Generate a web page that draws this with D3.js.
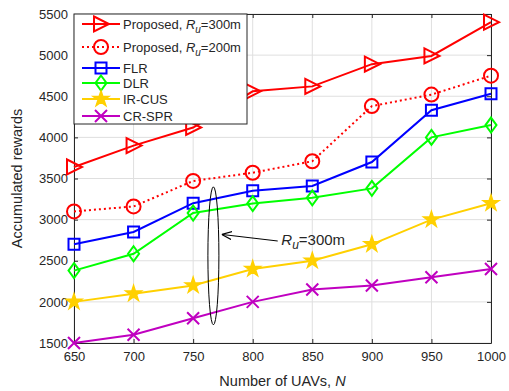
<!DOCTYPE html>
<html lang="en">
<head>
<meta charset="UTF-8">
<title>Accumulated rewards</title>
<script src="https://cdn.jsdelivr.net/npm/d3@7"></script>
<style>
  body { margin: 0; background: #fff; }
  text { font-family: "Liberation Sans", Arial, sans-serif; fill: #262626; }
</style>
</head>
<body>
<script>
const uavs = [650, 700, 750, 800, 850, 900, 950, 1000]
const proposed300 = [3640, 3900, 4120, 4560, 4620, 4890, 4990, 5400]
const proposed200 = [3100, 3160, 3470, 3570, 3710, 4380, 4520, 4750]
const flr = [2700, 2850, 3200, 3350, 3410, 3700, 4330, 4530]
const dlr = [2380, 2585, 3080, 3195, 3265, 3380, 4000, 4150]
const irCus = [2000, 2100, 2200, 2400, 2500, 2700, 3000, 3200]
const crSpr = [1500, 1600, 1800, 2000, 2150, 2200, 2300, 2400]
const yTicks = [1500, 2000, 2500, 3000, 3500, 4000, 4500, 5000, 5500]

const series = [
  { name: 'Proposed', ru: '300m', values: proposed300, color: '#ff0000', marker: 'tri', dash: null },
  { name: 'Proposed', ru: '200m', values: proposed200, color: '#ff0000', marker: 'circle', dash: '2,3' },
  { name: 'FLR', values: flr, color: '#0000ff', marker: 'square', dash: null },
  { name: 'DLR', values: dlr, color: '#00ff00', marker: 'diamond', dash: null },
  { name: 'IR-CUS', values: irCus, color: '#ffd000', marker: 'star', dash: null },
  { name: 'CR-SPR', values: crSpr, color: '#c000c0', marker: 'cross', dash: null }
]

const [width, height] = [509, 391]
const margin = { left: 74, right: 18, top: 14, bottom: 48 }
const svg = d3.select('body').append('svg')
  .attr('width', width).attr('height', height)

const x = d3.scaleLinear().domain([650, 1000]).range([margin.left, width - margin.right])
const y = d3.scaleLinear().domain([1500, 5500]).range([height - margin.bottom, margin.top])
const [x0, x1, y0, y1] = [x.range()[0], x.range()[1], y.range()[0], y.range()[1]]

// grid
svg.append('g').selectAll('line').data(uavs).join('line')
  .attr('x1', d => x(d)).attr('x2', d => x(d)).attr('y1', y0).attr('y2', y1)
  .attr('stroke', '#dfdfdf').attr('stroke-width', 1)
svg.append('g').selectAll('line').data(yTicks).join('line')
  .attr('x1', x0).attr('x2', x1).attr('y1', d => y(d)).attr('y2', d => y(d))
  .attr('stroke', '#dfdfdf').attr('stroke-width', 1)

// axes (ticks inside like matlab)
const styleAxis = g => {
  g.select('.domain').attr('stroke', '#262626')
  g.selectAll('.tick line').attr('stroke', '#262626')
  g.selectAll('.tick text').attr('fill', '#262626').style('font-size', '13px')
    .style('font-family', '"Liberation Sans", Arial, sans-serif')
}
svg.append('g').attr('transform', `translate(0,${y0})`)
  .call(d3.axisBottom(x).tickValues(uavs).tickSizeInner(-4).tickSizeOuter(0).tickPadding(9).tickFormat(d3.format('d')))
  .call(styleAxis)
svg.append('g').attr('transform', `translate(${x0},0)`)
  .call(d3.axisLeft(y).tickValues(yTicks).tickSizeInner(-4).tickSizeOuter(0).tickPadding(6).tickFormat(d3.format('d')))
  .call(styleAxis)
svg.append('g').attr('transform', `translate(0,${y1})`)
  .call(d3.axisTop(x).tickValues(uavs).tickSizeInner(-4).tickSizeOuter(0).tickFormat(''))
  .call(styleAxis)
svg.append('g').attr('transform', `translate(${x1},0)`)
  .call(d3.axisRight(y).tickValues(yTicks).tickSizeInner(-4).tickSizeOuter(0).tickFormat(''))
  .call(styleAxis)

// markers
const markerPath = (type) => {
  switch (type) {
    case 'tri': return 'M-7,-7.5L8,0L-7,7.5Z'
    case 'square': return 'M-5.5,-5.5H5.5V5.5H-5.5Z'
    case 'diamond': return 'M0,-7.5L5.5,0L0,7.5L-5.5,0Z'
    case 'cross': return 'M-6,-6L6,6M-6,6L6,-6'
    case 'star': return d3.symbol(d3.symbolStar, 75)()
    default: return null
  }
}
const drawMarker = (g, type, color) => {
  if (type === 'circle') {
    g.append('circle').attr('r', 7).attr('fill', 'none').attr('stroke', color).attr('stroke-width', 2)
  } else {
    g.append('path').attr('d', markerPath(type))
      .attr('fill', type === 'star' ? color : 'none')
      .attr('stroke', color).attr('stroke-width', type === 'star' ? 1.5 : 2)
      .attr('stroke-linejoin', 'miter')
  }
}

const line = d3.line().x((d, i) => x(uavs[i])).y(d => y(d))
series.forEach(s => {
  svg.append('path').datum(s.values)
    .attr('d', line).attr('fill', 'none')
    .attr('stroke', s.color).attr('stroke-width', 2)
    .attr('stroke-dasharray', s.dash)
  s.values.forEach((v, i) => {
    const g = svg.append('g').attr('transform', `translate(${x(uavs[i])},${y(v)})`)
    drawMarker(g, s.marker, s.color)
  })
})

// annotation
svg.append('ellipse').attr('cx', x(767)).attr('cy', y(2560)).attr('rx', 5.5).attr('ry', 69)
  .attr('fill', 'none').attr('stroke', '#000').attr('stroke-width', 1)
svg.append('defs').append('marker').attr('id', 'arr').attr('viewBox', '0 0 10 10')
  .attr('refX', 10).attr('refY', 5).attr('markerWidth', 10).attr('markerHeight', 10)
  .attr('markerUnits', 'userSpaceOnUse').attr('orient', 'auto')
  .append('path').attr('d', 'M0,1L10,5L0,9').attr('fill', 'none').attr('stroke', '#000').attr('stroke-width', 1.2)
svg.append('line').attr('x1', x(821)).attr('y1', y(2740)).attr('x2', x(774)).attr('y2', y(2820))
  .attr('stroke', '#000').attr('stroke-width', 1).attr('marker-end', 'url(#arr)')
const ann = svg.append('text').attr('x', x(824)).attr('y', y(2695)).style('font-size', '15px').attr('fill', '#000')
ann.append('tspan').style('font-style', 'italic').text('R')
ann.append('tspan').style('font-style', 'italic').style('font-size', '12px').attr('dy', 4).text('u')
ann.append('tspan').attr('dy', -4).text('=300m')

// legend
const lg = svg.append('g')
lg.append('rect').attr('x', x0).attr('y', y1).attr('width', 173).attr('height', 110)
  .attr('fill', '#fff').attr('stroke', '#262626').attr('stroke-width', 1)
const rowY = [24, 47, 68, 83, 99, 116]
series.forEach((s, i) => {
  const g = lg.append('g').attr('transform', `translate(0,${rowY[i]})`)
  g.append('line').attr('x1', 82).attr('x2', 120).attr('y1', 0).attr('y2', 0)
    .attr('stroke', s.color).attr('stroke-width', 2).attr('stroke-dasharray', s.dash)
  drawMarker(g.append('g').attr('transform', 'translate(101,0)'), s.marker, s.color)
  const t = g.append('text').attr('x', 123).attr('y', 5).style('font-size', '13px').attr('fill', '#000')
  if (s.ru) {
    t.append('tspan').text(s.name + ', ')
    t.append('tspan').style('font-style', 'italic').text('R')
    t.append('tspan').style('font-style', 'italic').style('font-size', '10px').attr('dy', 4).text('u')
    t.append('tspan').attr('dy', -4).text('=' + s.ru)
  } else {
    t.text(s.name)
  }
})

// axis labels
svg.append('text').attr('x', (x0 + x1) / 2).attr('y', 386).attr('text-anchor', 'middle')
  .style('font-size', '14.5px')
  .call(t => { t.append('tspan').text('Number of UAVs, '); t.append('tspan').style('font-style', 'italic').text('N') })
svg.append('text').attr('transform', `translate(22,${(y0 + y1) / 2}) rotate(-90)`)
  .attr('text-anchor', 'middle').style('font-size', '14.5px').text('Accumulated rewards')
</script>
</body>
</html>
